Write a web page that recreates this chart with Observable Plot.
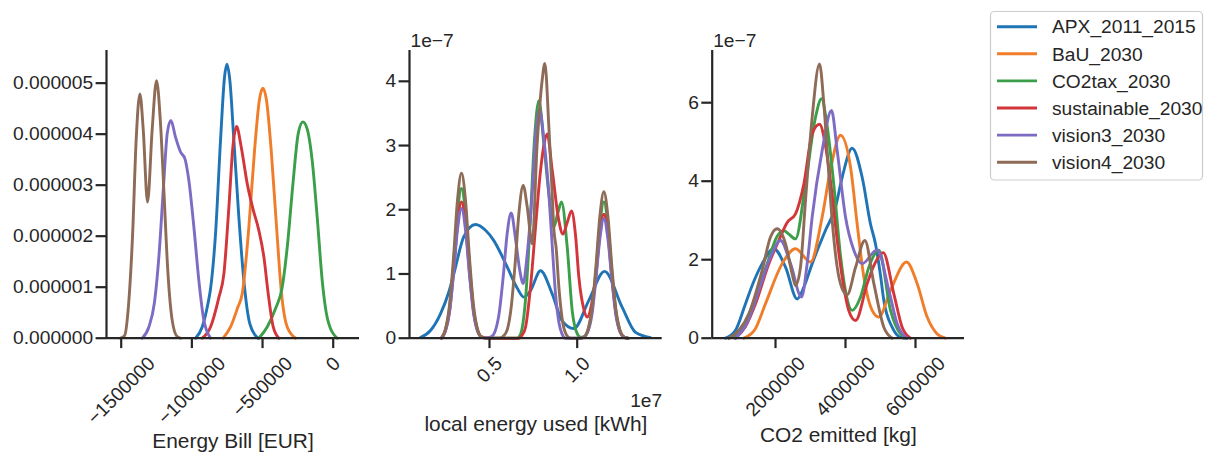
<!DOCTYPE html>
<html>
<head>
<meta charset="utf-8">
<script src="https://cdn.jsdelivr.net/npm/d3@7"></script>
<script src="https://cdn.jsdelivr.net/npm/@observablehq/plot@0.6"></script>
<style>
  body { margin: 0; background: #fff; }
  #chart { position: relative; width: 1207px; height: 455px; overflow: hidden; font-family: "Liberation Sans", Arial, sans-serif; }
  #chart svg { position: absolute; left: 0; top: 0; }
</style>
</head>
<body>
<div id="chart"></div>
<script>
// ---------- categories & colours ----------
const scenarios = ["APX_2011_2015", "BaU_2030", "CO2tax_2030", "sustainable_2030", "vision3_2030", "vision4_2030"];
const colors = ["#1f74b6", "#f07d2a", "#3a9f48", "#d3363a", "#7d6bc4", "#8e6b57"];

// ---------- panel 1: Energy Bill [EUR] (density) ----------
const bill_APX = [[-974000,0],[-926900,0.22e-6],[-886800,0.67e-6],[-867900,0.97e-6],[-832500,2.05e-6],[-797200,3.88e-6],[-768900,5.12e-6],[-752400,5.37e-6],[-731100,5.05e-6],[-702800,3.88e-6],[-667500,2.37e-6],[-632100,1.13e-6],[-589600,0.28e-6],[-533000,0]];
const bill_BaU = [[-778300,0],[-726400,0.22e-6],[-674500,0.61e-6],[-643800,0.87e-6],[-596700,2.18e-6],[-556600,3.68e-6],[-521200,4.69e-6],[-497600,4.90e-6],[-471700,4.66e-6],[-438700,3.68e-6],[-400900,2.18e-6],[-365500,0.87e-6],[-325400,0.22e-6],[-266400,0]];
const bill_CO2tax = [[-525900,0],[-467000,0.22e-6],[-408000,0.58e-6],[-360800,1.00e-6],[-325400,1.78e-6],[-282900,3.09e-6],[-247600,4.01e-6],[-214600,4.24e-6],[-183900,4.10e-6],[-148600,3.48e-6],[-113200,2.37e-6],[-77800,1.13e-6],[-37700,0.35e-6],[28300,0]];
const bill_sustainable = [[-926900,0],[-867900,0.22e-6],[-808900,0.80e-6],[-773500,1.26e-6],[-738100,2.57e-6],[-709800,3.75e-6],[-683900,4.15e-6],[-650900,3.75e-6],[-608400,3.03e-6],[-568300,2.54e-6],[-525800,2.11e-6],[-490400,1.59e-6],[-459800,0.87e-6],[-424400,0.22e-6],[-384400,0]];
const bill_vision3 = [[-1351400,0],[-1304300,0.22e-6],[-1264200,0.71e-6],[-1233500,1.59e-6],[-1198100,3.09e-6],[-1174500,4.01e-6],[-1148500,4.27e-6],[-1115500,3.94e-6],[-1080100,3.65e-6],[-1049500,3.52e-6],[-1021200,3.09e-6],[-985800,2.18e-6],[-950500,1.13e-6],[-915100,0.35e-6],[-867900,0]];
const bill_vision4 = [[-1505000,0],[-1476400,0.05e-6],[-1448100,0.65e-6],[-1419800,2.0e-6],[-1393900,3.9e-6],[-1368000,4.79e-6],[-1344300,4.1e-6],[-1313700,2.67e-6],[-1280600,4.1e-6],[-1250000,5.05e-6],[-1221700,4.2e-6],[-1198100,2.9e-6],[-1169800,1.3e-6],[-1139200,0.35e-6],[-1103800,0.03e-6],[-1080200,0]];
const billXTicks = [-1500000, -1000000, -500000, 0];
const billXTickLabels = ["\u22121500000", "\u22121000000", "\u2212500000", "0"];
const billYTicks = [0, 1e-6, 2e-6, 3e-6, 4e-6, 5e-6];
const billYTickLabels = ["0.000000", "0.000001", "0.000002", "0.000003", "0.000004", "0.000005"];

// ---------- panel 2: local energy used [kWh] (density) ----------
const energy_APX = [[1065000,0.01e-7],[1635000,0.12e-7],[2205000,0.38e-7],[2681000,0.72e-7],[2966000,1.0e-7],[3536000,1.58e-7],[4202000,1.77e-7],[4772000,1.68e-7],[5247000,1.52e-7],[6008000,1.11e-7],[6578000,0.78e-7],[6958000,0.64e-7],[7338000,0.74e-7],[7909000,1.05e-7],[8574000,0.69e-7],[9144000,0.27e-7],[9810000,0.15e-7],[10665000,0.59e-7],[11559000,1.04e-7],[12566000,0.48e-7],[13327000,0.09e-7],[14182000,0.01e-7]];
const energy_CO2tax = [[2262000,0],[2490000,0.13e-7],[2719000,0.46e-7],[2947000,1.14e-7],[3175000,1.95e-7],[3403000,2.33e-7],[3631000,1.95e-7],[3859000,1.14e-7],[4088000,0.46e-7],[4316000,0.13e-7],[4544000,0.02e-7],[5000000,0],[6578000,0],[6768000,0.06e-7],[7053000,0.6e-7],[7338000,1.9e-7],[7566000,3.1e-7],[7814000,3.70e-7],[8099000,3.02e-7],[8384000,2.25e-7],[8669000,1.73e-7],[8897000,1.95e-7],[9106000,2.12e-7],[9430000,1.42e-7],[9715000,0.43e-7],[10000000,0.07e-7],[10190000,0.015e-7],[10380000,0.02e-7],[10608000,0.12e-7],[10836000,0.42e-7],[11065000,1.03e-7],[11293000,1.77e-7],[11521000,2.12e-7],[11749000,1.77e-7],[11977000,1.03e-7],[12205000,0.42e-7],[12433000,0.12e-7],[12661000,0.02e-7],[12900000,0]];
const energy_sustainable = [[2262000,0],[2490000,0.12e-7],[2719000,0.42e-7],[2947000,1.03e-7],[3175000,1.77e-7],[3403000,2.12e-7],[3631000,1.77e-7],[3859000,1.03e-7],[4088000,0.42e-7],[4316000,0.12e-7],[4544000,0.02e-7],[5000000,0],[6673000,0],[6863000,0.05e-7],[7053000,0.17e-7],[7338000,0.8e-7],[7624000,1.73e-7],[7909000,2.61e-7],[8099000,3.0e-7],[8289000,3.18e-7],[8574000,2.62e-7],[8954000,1.83e-7],[9182000,1.62e-7],[9430000,1.80e-7],[9677000,1.98e-7],[9905000,1.6e-7],[10095000,0.95e-7],[10380000,0.45e-7],[10570000,0.33e-7],[10836000,0.55e-7],[11065000,0.98e-7],[11293000,1.62e-7],[11521000,1.93e-7],[11749000,1.62e-7],[11977000,0.95e-7],[12205000,0.39e-7],[12433000,0.11e-7],[12661000,0.02e-7],[12900000,0]];
const energy_vision3 = [[2262000,0],[2490000,0.11e-7],[2719000,0.40e-7],[2947000,0.99e-7],[3175000,1.69e-7],[3403000,2.02e-7],[3631000,1.69e-7],[3859000,0.99e-7],[4088000,0.40e-7],[4316000,0.11e-7],[4544000,0.02e-7],[4800000,0],[5095000,0.02e-7],[5323000,0.11e-7],[5551000,0.39e-7],[5779000,0.95e-7],[6008000,1.63e-7],[6236000,1.95e-7],[6483000,1.55e-7],[6730000,1.05e-7],[6920000,0.85e-7],[7148000,1.3e-7],[7433000,2.25e-7],[7661000,3.25e-7],[7852000,3.57e-7],[8099000,3.1e-7],[8384000,2.25e-7],[8574000,1.45e-7],[8764000,0.69e-7],[8954000,0.25e-7],[9144000,0.06e-7],[9335000,0],[10150000,0],[10380000,0.02e-7],[10608000,0.10e-7],[10836000,0.36e-7],[11065000,0.91e-7],[11293000,1.55e-7],[11521000,1.86e-7],[11749000,1.55e-7],[11977000,0.91e-7],[12205000,0.36e-7],[12433000,0.10e-7],[12661000,0.02e-7],[12900000,0]];
const energy_vision4 = [[2262000,0],[2490000,0.14e-7],[2719000,0.51e-7],[2947000,1.25e-7],[3175000,2.15e-7],[3403000,2.57e-7],[3631000,2.15e-7],[3859000,1.25e-7],[4088000,0.51e-7],[4316000,0.14e-7],[4544000,0.02e-7],[4800000,0],[5551000,0],[5779000,0.03e-7],[6008000,0.13e-7],[6236000,0.48e-7],[6464000,1.17e-7],[6692000,1.99e-7],[6920000,2.38e-7],[7148000,2.05e-7],[7433000,1.47e-7],[7718000,3.03e-7],[8004000,4.02e-7],[8156000,4.28e-7],[8384000,3.29e-7],[8574000,2.25e-7],[8669000,1.70e-7],[8802000,1.40e-7],[8954000,0.80e-7],[9144000,0.30e-7],[9372000,0.06e-7],[9619000,0],[10150000,0],[10380000,0.02e-7],[10608000,0.13e-7],[10836000,0.45e-7],[11065000,1.11e-7],[11293000,1.90e-7],[11521000,2.28e-7],[11749000,1.90e-7],[11977000,1.11e-7],[12205000,0.45e-7],[12433000,0.13e-7],[12661000,0.02e-7],[12900000,0]];
const energyXTicks = [5e6, 1e7];
const energyXTickLabels = ["0.5", "1.0"];
const energyYTicks = [0, 1e-7, 2e-7, 3e-7, 4e-7];
const energyYTickLabels = ["0", "1", "2", "3", "4"];

// ---------- panel 3: CO2 emitted [kg] (density) ----------
const co2_APX = [[571000,0],[857000,0.2e-7],[1143000,0.88e-7],[1381000,1.45e-7],[1619000,1.90e-7],[1952000,2.28e-7],[2286000,1.81e-7],[2619000,1.0e-7],[2810000,1.3e-7],[3048000,1.90e-7],[3429000,2.75e-7],[3714000,3.34e-7],[3905000,4.1e-7],[4190000,4.84e-7],[4476000,4.10e-7],[4714000,2.91e-7],[4857000,2.4e-7],[5000000,1.6e-7],[5095000,0.96e-7],[5333000,0.28e-7],[5571000,0.02e-7],[5714000,0]];
const co2_BaU = [[1095000,0],[1429000,0.25e-7],[1714000,0.88e-7],[2190000,1.90e-7],[2571000,2.28e-7],[3000000,1.94e-7],[3333000,3.09e-7],[3571000,4.3e-7],[3857000,5.17e-7],[4143000,4.36e-7],[4333000,2.91e-7],[4524000,1.56e-7],[4762000,0.71e-7],[4952000,0.54e-7],[5286000,1.22e-7],[5743000,1.94e-7],[6048000,1.39e-7],[6333000,0.54e-7],[6619000,0.11e-7],[6857000,0]];
const co2_CO2tax = [[667000,0],[1000000,0.2e-7],[1381000,0.9e-7],[1762000,1.9e-7],[2048000,2.6e-7],[2238000,2.74e-7],[2381000,2.65e-7],[2571000,2.53e-7],[2857000,3.93e-7],[3143000,5.63e-7],[3314000,6.10e-7],[3476000,5.4e-7],[3667000,3.9e-7],[3857000,2.1e-7],[4000000,1.2e-7],[4190000,0.71e-7],[4429000,1.05e-7],[4667000,1.81e-7],[4952000,2.24e-7],[5286000,0.71e-7],[5571000,0.11e-7],[5762000,0]];
const co2_sustainable = [[857000,0],[1143000,0.3e-7],[1429000,0.88e-7],[1810000,1.90e-7],[2095000,2.49e-7],[2333000,2.95e-7],[2571000,3.17e-7],[2810000,3.93e-7],[3048000,5.21e-7],[3257000,5.45e-7],[3429000,4.9e-7],[3571000,4.0e-7],[3762000,2.5e-7],[3952000,1.3e-7],[4095000,0.7e-7],[4286000,0.45e-7],[4619000,1.39e-7],[4810000,1.85e-7],[5076000,2.18e-7],[5381000,1.13e-7],[5619000,0.28e-7],[5857000,0]];
const co2_vision3 = [[857000,0],[1190000,0.4e-7],[1524000,1.22e-7],[1857000,2.07e-7],[2143000,2.49e-7],[2429000,1.90e-7],[2743000,1.05e-7],[2905000,1.9e-7],[3048000,3.09e-7],[3333000,4.78e-7],[3600000,5.80e-7],[3762000,4.78e-7],[4000000,3.09e-7],[4238000,2.24e-7],[4476000,1.90e-7],[4905000,2.25e-7],[5238000,1.22e-7],[5476000,0.37e-7],[5762000,0]];
const co2_vision4 = [[667000,0],[952000,0.2e-7],[1238000,0.62e-7],[1619000,1.73e-7],[1857000,2.58e-7],[2048000,2.79e-7],[2286000,2.41e-7],[2476000,1.64e-7],[2571000,1.34e-7],[2714000,1.81e-7],[2857000,3.51e-7],[3048000,5.63e-7],[3257000,6.99e-7],[3381000,5.97e-7],[3495000,4.53e-7],[3619000,3.0e-7],[3762000,1.81e-7],[3905000,1.26e-7],[4048000,1.11e-7],[4286000,1.8e-7],[4552000,2.49e-7],[4810000,1.39e-7],[5095000,0.28e-7],[5333000,0]];
const co2XTicks = [2000000, 4000000, 6000000];
const co2XTickLabels = ["2000000", "4000000", "6000000"];
const co2YTicks = [0, 2e-7, 4e-7, 6e-7];
const co2YTickLabels = ["0", "2", "4", "6"];

// ---------- drawing ----------
const ink = "#262626";
const FS = 19.2, LFS = 20.9;
const FONT = '"Liberation Sans", Arial, sans-serif';
const BOTTOM = 337.7;
const ctx = document.createElement("canvas").getContext("2d");

function toRows(series) {
  return series.flatMap(([name, pts]) => pts.map(([x, y]) => ({scenario: name, x, y})));
}

function panel(o) {
  ctx.font = `${FS}px "Liberation Sans"`;
  const xLabelMarks = o.xTicks.map((t, i) => {
    const w = ctx.measureText(o.xTickLabels[i]).width;
    return Plot.text([t], {
      x: d => d, text: () => o.xTickLabels[i], frameAnchor: "bottom",
      dy: 14.4 + 0.354 * (w + 1.15 * FS), rotate: -45,
      textAnchor: "middle", lineAnchor: "middle", fontSize: FS, fill: ink
    });
  });
  const marks = [
    Plot.line(o.rows, {x: "x", y: "y", stroke: "scenario", curve: "monotone-x", strokeWidth: 2.9, strokeLinejoin: "round", strokeLinecap: "round"}),
    Plot.ruleY([0], {stroke: ink, strokeWidth: 2.2}),
    Plot.ruleX([o.xDomain[0]], {stroke: ink, strokeWidth: 2.2}),
    Plot.axisX(o.xTicks, {tickSize: 10.4, fill: "none", stroke: ink, strokeWidth: 2.2, label: null}),
    Plot.axisY(o.yTicks, {tickSize: 10.4, tickPadding: 3, tickFormat: d => o.yTickLabels[o.yTicks.indexOf(d)], fontSize: FS, fill: ink, stroke: ink, strokeWidth: 2.2, label: null}),
    ...xLabelMarks,
    Plot.text([o.label], {frameAnchor: "bottom", text: d => d, dy: o.labelBaseline - BOTTOM, lineAnchor: "bottom", fontSize: LFS, fill: ink})
  ];
  if (o.yOffset) marks.push(Plot.text([o.yOffset], {frameAnchor: "top-left", text: d => d, textAnchor: "start", lineAnchor: "bottom", dx: 1, dy: -4, fontSize: FS, fill: ink}));
  if (o.xOffset) marks.push(Plot.text([o.xOffset], {frameAnchor: "bottom-right", text: d => d, textAnchor: "end", lineAnchor: "bottom", dy: 406 - BOTTOM, fontSize: FS, fill: ink}));
  return Plot.plot({
    width: 1207, height: 455,
    marginLeft: o.left, marginRight: 1207 - o.right, marginTop: 50, marginBottom: 455 - BOTTOM,
    x: {domain: o.xDomain},
    y: {domain: o.yDomain},
    color: {domain: scenarios, range: colors},
    style: {fontFamily: FONT, fontSize: FS + "px", color: ink, background: "transparent", overflow: "visible"},
    marks
  });
}

const chart = document.getElementById("chart");

chart.appendChild(panel({
  rows: toRows([[scenarios[0], bill_APX], [scenarios[1], bill_BaU], [scenarios[2], bill_CO2tax], [scenarios[3], bill_sustainable], [scenarios[4], bill_vision3], [scenarios[5], bill_vision4]]),
  left: 106, right: 359, xDomain: [-1604000, 186000], yDomain: [0, 5.64e-6],
  xTicks: billXTicks, xTickLabels: billXTickLabels, yTicks: billYTicks, yTickLabels: billYTickLabels,
  label: "Energy Bill [EUR]", labelBaseline: 447.3
}));

chart.appendChild(panel({
  rows: toRows([[scenarios[0], energy_APX], [scenarios[2], energy_CO2tax], [scenarios[3], energy_sustainable], [scenarios[4], energy_vision3], [scenarios[5], energy_vision4]]),
  left: 409, right: 661.7, xDomain: [439000, 14846000], yDomain: [0, 4.48e-7],
  xTicks: energyXTicks, xTickLabels: energyXTickLabels, yTicks: energyYTicks, yTickLabels: energyYTickLabels,
  label: "local energy used [kWh]", labelBaseline: 430.7, yOffset: "1e\u22127", xOffset: "1e7"
}));

chart.appendChild(panel({
  rows: toRows([[scenarios[0], co2_APX], [scenarios[1], co2_BaU], [scenarios[2], co2_CO2tax], [scenarios[3], co2_sustainable], [scenarios[4], co2_vision3], [scenarios[5], co2_vision4]]),
  left: 711.7, right: 964, xDomain: [191000, 7400000], yDomain: [0, 7.33e-7],
  xTicks: co2XTicks, xTickLabels: co2XTickLabels, yTicks: co2YTicks, yTickLabels: co2YTickLabels,
  label: "CO2 emitted [kg]", labelBaseline: 441.7, yOffset: "1e\u22127"
}));

// ---------- legend ----------
const leg = d3.select("#chart").append("svg")
  .attr("width", 1207).attr("height", 455)
  .style("font-family", FONT).style("font-size", FS + "px");
leg.append("rect").attr("x", 990.5).attr("y", 11.5).attr("width", 212).attr("height", 168.5)
  .attr("rx", 4).attr("fill", "white").attr("fill-opacity", 0.8).attr("stroke", "#cccccc").attr("stroke-width", 1.2);
scenarios.forEach((s, i) => {
  const y = 26.7 + i * 27.1;
  leg.append("line").attr("x1", 997).attr("x2", 1037).attr("y1", y).attr("y2", y)
    .attr("stroke", colors[i]).attr("stroke-width", 2.9);
  leg.append("text").attr("x", 1052).attr("y", y).attr("dy", "0.35em").attr("fill", ink).text(s);
});
</script>
</body>
</html>
